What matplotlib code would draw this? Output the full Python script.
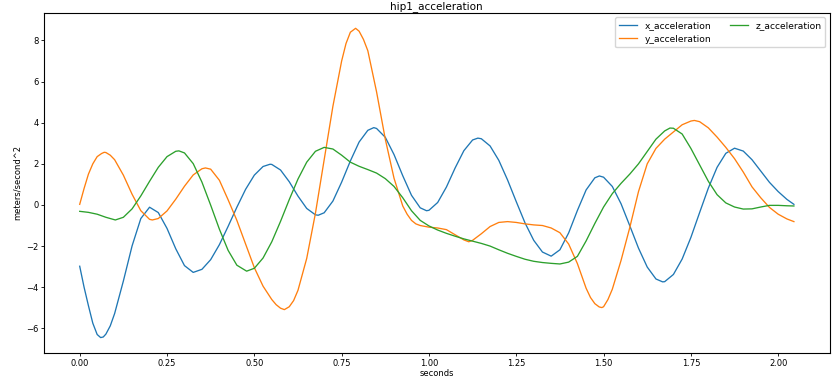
import matplotlib
matplotlib.use("Agg")
import matplotlib.pyplot as plt

# x acceleration (blue)
t_x = [0, 0.0125, 0.025, 0.0375, 0.05, 0.06, 0.0675, 0.075, 0.0875, 0.1, 0.125, 0.15, 0.175, 0.2,
       0.225, 0.25, 0.275, 0.3, 0.325, 0.35, 0.375, 0.4, 0.425, 0.45, 0.475, 0.5, 0.525, 0.545,
       0.55, 0.575, 0.6, 0.625, 0.65, 0.675, 0.683, 0.7, 0.725, 0.75, 0.775, 0.8, 0.825, 0.842,
       0.85, 0.875, 0.9, 0.925, 0.95, 0.975, 0.993, 1.0, 1.025, 1.05, 1.075, 1.1, 1.125, 1.14,
       1.15, 1.175, 1.2, 1.225, 1.25, 1.275, 1.3, 1.325, 1.35, 1.375, 1.4, 1.425, 1.45, 1.475,
       1.488, 1.5, 1.525, 1.55, 1.575, 1.6, 1.625, 1.65, 1.669, 1.675, 1.7, 1.725, 1.75, 1.775,
       1.8, 1.825, 1.85, 1.875, 1.9, 1.925, 1.95, 1.975, 2.0, 2.025, 2.045]
x_acc = [-2.98, -4.0, -4.9, -5.75, -6.3, -6.45, -6.42, -6.28, -5.88, -5.28, -3.70, -1.99, -0.66,
         -0.11, -0.37, -1.14, -2.13, -2.95, -3.28, -3.13, -2.66, -1.93, -1.04, -0.11, 0.76, 1.45,
         1.87, 1.98, 1.97, 1.70, 1.13, 0.43, -0.17, -0.48, -0.5, -0.38, 0.19, 1.11, 2.14, 3.06, 3.63,
         3.76, 3.72, 3.29, 2.45, 1.42, 0.47, -0.14, -0.28, -0.26, 0.12, 0.87, 1.80, 2.64, 3.16, 3.25,
         3.22, 2.87, 2.17, 1.22, 0.16, -0.87, -1.72, -2.29, -2.49, -2.18, -1.36, -0.27, 0.73, 1.32,
         1.41, 1.35, 0.90, 0.06, -1.01, -2.10, -3.02, -3.60, -3.74, -3.73, -3.38, -2.63, -1.58,
         -0.37, 0.82, 1.83, 2.51, 2.76, 2.62, 2.2, 1.65, 1.1, 0.65, 0.27, 0.03]

# y acceleration (orange)
t_y = [0, 0.0125, 0.025, 0.0375, 0.05, 0.0625, 0.07, 0.075, 0.0875, 0.1, 0.125, 0.15, 0.175, 0.2,
       0.208, 0.225, 0.25, 0.275, 0.3, 0.325, 0.35, 0.36, 0.375, 0.4, 0.425, 0.45, 0.475, 0.5,
       0.525, 0.55, 0.5625, 0.575, 0.586, 0.6, 0.6125, 0.625, 0.65, 0.675, 0.7, 0.725, 0.75,
       0.7625, 0.775, 0.79, 0.8, 0.8125, 0.825, 0.85, 0.875, 0.9, 0.925, 0.9375, 0.95, 0.9625,
       0.975, 1.0, 1.025, 1.05, 1.075, 1.1, 1.114, 1.125, 1.15, 1.175, 1.2, 1.225, 1.25, 1.275,
       1.3, 1.325, 1.35, 1.375, 1.4, 1.425, 1.45, 1.4625, 1.475, 1.4875, 1.495, 1.5, 1.5125, 1.525,
       1.55, 1.575, 1.6, 1.625, 1.65, 1.675, 1.7, 1.725, 1.75, 1.76, 1.775, 1.8, 1.825, 1.85,
       1.875, 1.9, 1.925, 1.95, 1.975, 2.0, 2.025, 2.045]
y_acc = [0.03, 0.8, 1.5, 2.0, 2.35, 2.5, 2.56, 2.55, 2.42, 2.20, 1.45, 0.52, -0.28, -0.70, -0.73,
         -0.66, -0.29, 0.28, 0.91, 1.46, 1.76, 1.80, 1.74, 1.2, 0.25, -0.75, -1.9, -3.05, -3.95,
         -4.6, -4.85, -5.02, -5.09, -4.95, -4.65, -4.15, -2.6, -0.4, 2.2, 4.8, 7.0, 7.85, 8.4, 8.59,
         8.45, 8.05, 7.5, 5.5, 3.2, 1.3, -0.05, -0.45, -0.75, -0.92, -1.0, -1.08, -1.12, -1.2, -1.45,
         -1.7, -1.79, -1.72, -1.4, -1.05, -0.85, -0.81, -0.85, -0.92, -0.97, -1.0, -1.12, -1.35,
         -1.9, -2.85, -4.05, -4.5, -4.8, -4.96, -4.99, -4.95, -4.6, -4.1, -2.7, -1.1, 0.65, 2.0,
         2.75, 3.2, 3.55, 3.9, 4.08, 4.11, 4.05, 3.75, 3.3, 2.8, 2.25, 1.6, 0.88, 0.35, -0.12,
         -0.45, -0.68, -0.81]

# z acceleration (green)
t_z = [0, 0.025, 0.05, 0.075, 0.102, 0.125, 0.15, 0.175, 0.2, 0.225, 0.25, 0.275, 0.284, 0.3,
       0.325, 0.35, 0.375, 0.4, 0.425, 0.45, 0.478, 0.5, 0.525, 0.55, 0.575, 0.6, 0.625, 0.65,
       0.675, 0.7, 0.725, 0.75, 0.775, 0.8, 0.825, 0.85, 0.875, 0.9, 0.925, 0.95, 0.975, 1.0,
       1.025, 1.05, 1.075, 1.1, 1.125, 1.15, 1.175, 1.2, 1.225, 1.25, 1.275, 1.3, 1.325, 1.35,
       1.375, 1.4, 1.425, 1.45, 1.475, 1.5, 1.525, 1.55, 1.575, 1.6, 1.625, 1.65, 1.675, 1.69,
       1.7, 1.725, 1.75, 1.775, 1.8, 1.825, 1.85, 1.875, 1.9, 1.925, 1.95, 1.975, 2.0, 2.025, 2.045]
z_acc = [-0.31, -0.36, -0.45, -0.6, -0.73, -0.60, -0.19, 0.44, 1.15, 1.83, 2.35, 2.61, 2.63, 2.53,
         2.01, 1.11, -0.01, -1.18, -2.21, -2.93, -3.22, -3.08, -2.58, -1.79, -0.80, 0.26, 1.26, 2.08,
         2.61, 2.8, 2.72, 2.42, 2.08, 1.88, 1.72, 1.55, 1.28, 0.9, 0.35, -0.28, -0.75, -1.02, -1.22,
         -1.38, -1.52, -1.65, -1.76, -1.87, -2.0, -2.18, -2.35, -2.5, -2.64, -2.74, -2.8, -2.84,
         -2.87, -2.78, -2.5, -1.75, -0.9, -0.1, 0.55, 1.05, 1.5, 2.0, 2.6, 3.2, 3.6, 3.74, 3.73,
         3.45, 2.75, 1.95, 1.15, 0.5, 0.1, -0.1, -0.2, -0.19, -0.1, -0.02, -0.02, -0.04, -0.05]

fig = plt.figure(figsize=(8.38, 3.78), dpi=100)
ax = fig.add_axes([0.0525, 0.066, 0.9375, 0.9])

ax.plot(t_x, x_acc, lw=0.95, label="x_acceleration")
ax.plot(t_y, y_acc, lw=0.95, label="y_acceleration")
ax.plot(t_z, z_acc, lw=0.95, label="z_acceleration")

ax.set_title("hip1_acceleration", fontsize=7.5, pad=3)
ax.set_xlabel("seconds", fontsize=6, labelpad=1)
ax.set_ylabel("meters/second^2", fontsize=6, labelpad=3)
ax.tick_params(labelsize=6, length=2, width=0.6, pad=2)
ax.legend(loc="upper right", ncol=2, fontsize=6.6)

fig.savefig("out.png", dpi=100)
